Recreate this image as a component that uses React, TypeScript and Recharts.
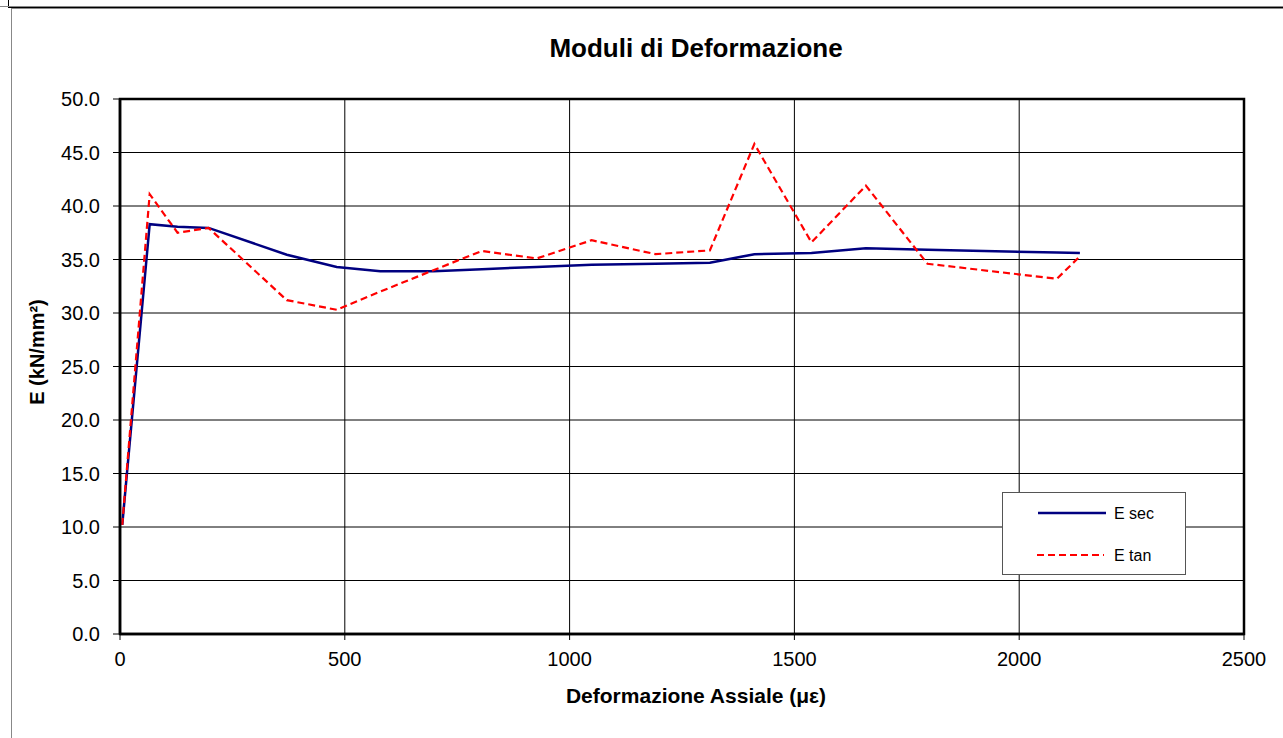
import React from "react";
import {
  LineChart,
  Line,
  XAxis,
  YAxis,
  CartesianGrid,
  Legend,
  ReferenceArea,
} from "recharts";

// axial strain (micro-strain)
const strain = [5, 66, 128, 197, 371, 482, 579, 697, 805, 927, 1049, 1191, 1312, 1411, 1538, 1659, 1796, 2084, 2135];
// secant modulus (kN/mm2)
const eSec = [10.2, 38.3, 38.05, 37.95, 35.45, 34.3, 33.9, 33.9, 34.1, 34.3, 34.5, 34.6, 34.7, 35.5, 35.6, 36.05, 35.9, 35.65, 35.6];
// tangent modulus (kN/mm2)
const eTan = [10.2, 41.1, 37.5, 37.95, 31.2, 30.3, 32.0, 34.0, 35.8, 35.1, 36.8, 35.5, 35.85, 45.8, 36.6, 41.9, 34.6, 33.2, 35.3];

const xTicks = [0, 500, 1000, 1500, 2000, 2500];
const yTicks = [0, 5, 10, 15, 20, 25, 30, 35, 40, 45, 50];

const seriesNames = ["E sec", "E tan"];

const data = strain.map((s, i) => ({ strain: s, sec: eSec[i], tan: eTan[i] }));

const FONT = "'Liberation Sans', Arial, sans-serif";

function LegendBox() {
  return (
    <div
      style={{
        width: 182,
        height: 81,
        border: "1px solid #555",
        background: "#fff",
        fontFamily: FONT,
        fontSize: 16,
        position: "relative",
      }}
    >
      <svg width={182} height={81} style={{ position: "absolute", left: 0, top: 0 }}>
        <line x1={35} x2={103} y1={20} y2={20} stroke="#000080" strokeWidth={2.5} />
        <text x={111} y={26} fill="#000" fontFamily={FONT} fontSize={16}>
          {seriesNames[0]}
        </text>
        <line x1={34} x2={101} y1={62} y2={62} stroke="#ff0000" strokeWidth={2.2} strokeDasharray="7 4" />
        <text x={111} y={68} fill="#000" fontFamily={FONT} fontSize={16}>
          {seriesNames[1]}
        </text>
      </svg>
    </div>
  );
}

export default function App() {
  return (
    <div
      style={{
        position: "absolute",
        left: 0,
        top: 0,
        width: 1283,
        height: 738,
        overflow: "hidden",
        background: "#fff",
        fontFamily: FONT,
      }}
    >
      {/* frame lines of the spreadsheet chart */}
      <div style={{ position: "absolute", left: 8, top: 0, width: 1300, height: 6, borderLeft: "1px solid #000", borderBottom: "2px solid #000" }} />
      <div style={{ position: "absolute", left: 0, top: 6, width: 1300, height: 1, background: "#888" }} />
      <div style={{ position: "absolute", left: 11, top: 8, width: 1300, height: 800, borderLeft: "1px solid #888", borderTop: "1px solid #888" }} />

      <LineChart
        width={1283}
        height={738}
        data={data}
        margin={{ top: 99, right: 39, bottom: 0, left: 0 }}
        style={{ position: "absolute", left: 0, top: 0 }}
      >
        <CartesianGrid stroke="#000" strokeWidth={1} />
        <XAxis
          dataKey="strain"
          type="number"
          domain={[0, 2500]}
          ticks={xTicks}
          height={104}
          tickSize={6}
          tickMargin={12}
          axisLine={{ stroke: "#000", strokeWidth: 2.5 }}
          tickLine={{ stroke: "#000" }}
          tick={{ fill: "#000", fontSize: 20, fontFamily: FONT }}
        />
        <YAxis
          type="number"
          domain={[0, 50]}
          ticks={yTicks}
          width={120}
          tickSize={7}
          tickMargin={13}
          tickFormatter={(v: number) => v.toFixed(1)}
          axisLine={{ stroke: "#000", strokeWidth: 2.5 }}
          tickLine={{ stroke: "#000" }}
          tick={{ fill: "#000", fontSize: 20, fontFamily: FONT }}
        />
        <ReferenceArea x1={0} x2={2500} y1={0} y2={50} fill="none" stroke="#000" strokeWidth={2.5} />
        <Line
          dataKey="sec"
          name={seriesNames[0]}
          type="linear"
          stroke="#000080"
          strokeWidth={2.5}
          dot={false}
          isAnimationActive={false}
        />
        <Line
          dataKey="tan"
          name={seriesNames[1]}
          type="linear"
          stroke="#ff0000"
          strokeWidth={2.2}
          strokeDasharray="7 4"
          dot={false}
          isAnimationActive={false}
        />
        <Legend
          layout="horizontal"
          verticalAlign="middle"
          align="center"
          content={() => <LegendBox />}
          wrapperStyle={{ position: "absolute", left: 1002, top: 492, width: 184, height: 83, margin: 0 }}
        />
      </LineChart>

      {/* titles */}
      <svg
        width={1283}
        height={738}
        style={{ position: "absolute", left: 0, top: 0, pointerEvents: "none" }}
      >
        <text x={696} y={57} textAnchor="middle" fontFamily={FONT} fontWeight="bold" fontSize={26} fill="#000">
          Moduli di Deformazione
        </text>
        <text x={696} y={703} textAnchor="middle" fontFamily={FONT} fontWeight="bold" fontSize={21} fill="#000">
          Deformazione Assiale (με)
        </text>
        <text
          x={0}
          y={0}
          transform="translate(44 352) rotate(-90)"
          textAnchor="middle"
          fontFamily={FONT}
          fontWeight="bold"
          fontSize={20}
          fill="#000"
        >
          E (kN/mm²)
        </text>
      </svg>
    </div>
  );
}
